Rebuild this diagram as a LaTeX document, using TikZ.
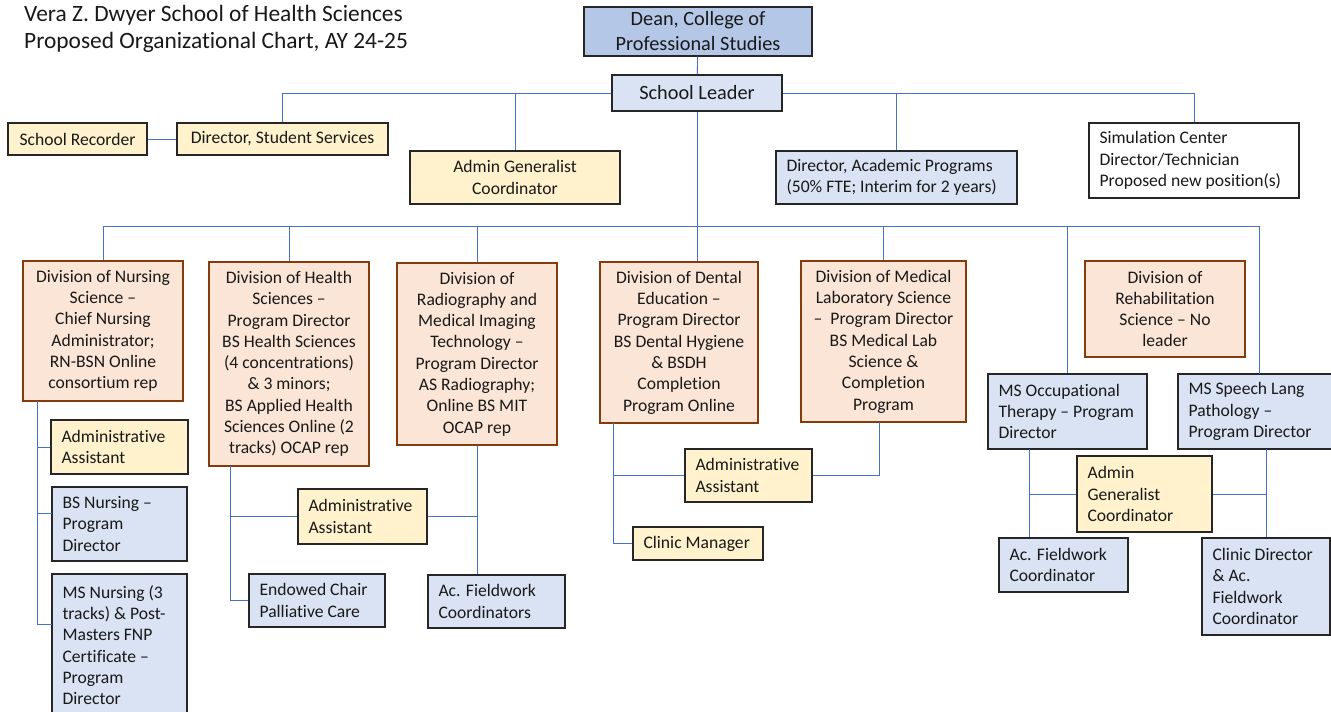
\documentclass[tikz,border=0pt]{standalone}
\usepackage{fontspec}
\setmainfont{Carlito}[Ligatures={NoCommon}]
\usetikzlibrary{calc}
\definecolor{yel}{HTML}{FFF2CC}
\definecolor{lblue}{HTML}{DAE3F3}
\definecolor{dblue}{HTML}{B4C7E7}
\definecolor{org}{HTML}{FBE5D6}
\definecolor{brn}{HTML}{843C0C}
\definecolor{lnc}{HTML}{4472C4}
\definecolor{bdr}{HTML}{262626}
\tikzset{
  yelbox/.style={draw=bdr, fill=yel, line width=1.3pt},
  bluebox/.style={draw=bdr, fill=lblue, line width=1.3pt},
  deanbox/.style={draw=bdr, fill=dblue, line width=1.3pt},
  divbox/.style={draw=brn, fill=org, line width=2pt},
  whitebox/.style={draw=bdr, fill=white, line width=1.3pt},
  ln/.style={draw=lnc, line width=0.9pt},
  txt/.style={text=black!90},
  bigtxt/.style={font=\fontsize{20.3}{25}\selectfont}
}
% centred box: name, style, x1, y1, x2, y2, text
\newcommand\bxc[7]{%
  \pgfmathsetmacro\bw{#5-#3}\pgfmathsetmacro\bh{#6-#4}%
  \node[#2, txt, minimum width=\bw pt, minimum height=\bh pt, align=center, inner sep=0pt]
    (#1) at ({(#3+#5)/2},{(#4+#6)/2}) {#7};}
% left aligned box
\newcommand\bxl[7]{%
  \pgfmathsetmacro\bw{#5-#3}\pgfmathsetmacro\bh{#6-#4}%
  \node[#2, minimum width=\bw pt, minimum height=\bh pt, inner sep=0pt]
    (#1) at ({(#3+#5)/2},{(#4+#6)/2}) {};
  \node[txt, anchor=west, align=left, inner xsep=11pt, inner ysep=0pt] (#1t) at (#1.west) {#7};}
\begin{document}
\begin{tikzpicture}[x=1pt, y=-1pt, font=\fontsize{17.6}{21.3}\selectfont]
\useasboundingbox (0,0) rectangle (1331,712);
\clip (0,0) rectangle (1331,712);
\fill[white] (0,0) rectangle (1331,712);

% title
\node[txt, anchor=base west, inner sep=0pt, font=\fontsize{23.4}{27}\selectfont] (title1) at (24,21) {Vera Z. Dwyer School of Health Sciences};
\node[txt, anchor=base west, inner sep=0pt, font=\fontsize{23.4}{27}\selectfont] (title2) at (24,48) {Proposed Organizational Chart, AY 24-25};

% top level
\bxc{dean}{deanbox, bigtxt}{584}{7}{812}{56}{Dean, College of\\Professional Studies}
\bxc{lead}{bluebox, bigtxt}{612}{75}{782}{111}{School Leader}
\bxc{rec}{yelbox}{8}{123}{147}{155}{School Recorder}
\bxc{dss}{yelbox}{177}{123}{388}{155}{Director, Student Services}
\bxc{agc}{yelbox}{410}{151}{620}{204}{Admin Generalist\\Coordinator}
\bxl{dap}{bluebox}{776}{151}{1017}{204}{Director, Academic Programs\\(50\% FTE; Interim for 2 years)}
\bxl{sim}{whitebox}{1089}{123}{1299}{198}{Simulation Center\\Director/Technician\\Proposed new position(s)}

% divisions
\bxc{nurs}{divbox}{23}{261}{183}{401}{Division of Nursing\\Science –\\Chief Nursing\\Administrator;\\RN-BSN Online\\consortium rep}
\bxc{hs}{divbox}{209}{262}{369}{466}{Division of Health\\Sciences –\\Program Director\\BS Health Sciences\\(4 concentrations)\\\& 3 minors;\\BS Applied Health\\Sciences Online (2\\tracks) OCAP rep}
\bxc{rad}{divbox}{397}{263}{557}{445}{Division of\\Radiography and\\Medical Imaging\\Technology –\\Program Director\\AS Radiography;\\Online BS MIT\\OCAP rep}
\bxc{dent}{divbox}{600}{262}{758}{423}{Division of Dental\\Education –\\Program Director\\BS Dental Hygiene\\\& BSDH\\Completion\\Program Online}
\bxc{mls}{divbox}{801}{261}{966}{422}{Division of Medical\\Laboratory Science\\–\ \ Program Director\\BS Medical Lab\\Science \&\\Completion\\Program}
\bxc{reh}{divbox}{1085}{261}{1245}{357}{Division of\\Rehabilitation\\Science – No\\leader}

% programmes and staff
\bxl{ot}{bluebox}{988}{374}{1147}{449}{MS Occupational\\Therapy – Program\\Director}
\bxl{slp}{bluebox}{1178}{374}{1345}{449}{MS Speech Lang\\Pathology –\\Program Director}
\bxl{naa}{yelbox}{51}{420}{188}{474}{Administrative\\Assistant}
\bxl{nbs}{bluebox}{52}{487}{187}{561}{BS Nursing –\\Program\\Director}
\bxl{nms}{bluebox}{52}{574}{187}{716}{MS Nursing (3\\tracks) \& Post-\\Masters FNP\\Certificate –\\Program\\Director}
\bxl{haa}{yelbox}{298}{489}{427}{544}{Administrative\\Assistant}
\bxl{endow}{bluebox}{249}{574}{385}{627}{Endowed Chair\\Palliative Care}
\bxl{afc}{bluebox}{428}{575}{565}{628}{Ac. Fieldwork\\Coordinators}
\bxl{daa}{yelbox}{685}{449}{812}{502}{Administrative\\Assistant}
\bxl{cm}{yelbox}{633}{527}{763}{560}{Clinic Manager}
\bxl{agc2}{yelbox}{1077}{456}{1212}{532}{Admin\\Generalist\\Coordinator}
\bxl{afc2}{bluebox}{999}{538}{1128}{592}{Ac. Fieldwork\\Coordinator}
\bxl{cd}{bluebox}{1202}{538}{1330}{635}{Clinic Director\\\& Ac.\\Fieldwork\\Coordinator}

% junction coordinates
\coordinate (bus) at (697,226);
\coordinate (s0) at (1259,374);
\coordinate (n0) at (37,401);
\coordinate (nb) at (52,513);
\coordinate (nm) at (52,624);
\coordinate (h0) at (230,466);
\coordinate (d0) at (613,423);
\coordinate (m0) at (879,422);
\coordinate (r0) at (1029,449);
\coordinate (r1) at (1266,449);

% connectors
\draw[ln] (dean) -- (lead);
\draw[ln] (rec) -- (dss);
\draw[ln] (lead.west) -| (dss.north);
\draw[ln] (lead.west) -| (agc.north);
\draw[ln] (lead.east) -| (dap.north);
\draw[ln] (lead.east) -| (sim.north);
\draw[ln] (lead.south) -- (lead.south |- dent.north);
\draw[ln] (bus) -| (nurs.north);
\draw[ln] (bus) -| (hs.north);
\draw[ln] (bus) -| (rad.north);
\draw[ln] (bus) -| (mls.north);
\draw[ln] (bus) -| (ot.north);
\draw[ln] (bus) -| (s0);
\draw[ln] (n0) |- (naa.west);
\draw[ln] (n0) |- (nb);
\draw[ln] (n0) |- (nm);
\draw[ln] (h0) |- (haa.west);
\draw[ln] (h0) |- (endow.west);
\draw[ln] (rad.south) -- (rad.south |- afc.north);
\draw[ln] (haa.east) -- (haa.east -| rad.south);
\draw[ln] (d0) |- (daa.west);
\draw[ln] (d0) |- (cm.west);
\draw[ln] (daa.east) -| (m0);
\draw[ln] (r0) -- (r0 |- afc2.north);
\draw[ln] (agc2.west) -- (agc2.west -| r0);
\draw[ln] (r1) -- (cd.north);
\draw[ln] (agc2.east) -- (agc2.east -| r1);
\end{tikzpicture}
\end{document}
